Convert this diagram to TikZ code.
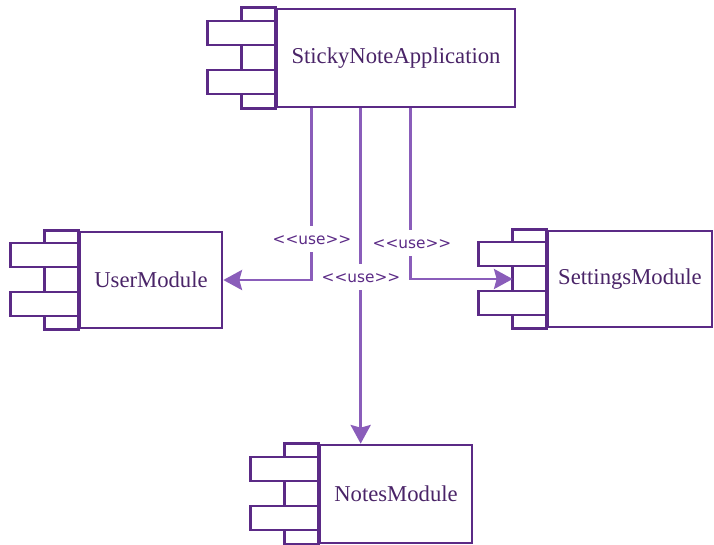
\documentclass[tikz,border=0pt]{standalone}
\usepackage{fontspec}
\setmainfont{Liberation Serif}
\newfontfamily\lblfont{DejaVu Sans}
\usetikzlibrary{calc,arrows.meta}
\definecolor{boxc}{HTML}{5B2A86}
\definecolor{linec}{HTML}{8A5DBA}
\definecolor{txtc}{HTML}{4A2468}
\newcommand\compdeco[1]{%
  \draw[deco] ($(#1.north west)+(-34,0)$) rectangle (#1.south west);
  \draw[deco] ($(#1.west)+(-68,-37)$) rectangle ($(#1.west)+(0,-13)$);
  \draw[deco] ($(#1.west)+(-68,12)$) rectangle ($(#1.west)+(0,36)$);
}
\begin{document}
\begin{tikzpicture}[x=0.75pt,y=-0.75pt,
  comp/.style={draw=boxc, line width=2pt, fill=white, font=\fontsize{17}{20}\selectfont, text=txtc, inner sep=0pt},
  deco/.style={draw=boxc, line width=2pt, fill=white},
  conn/.style={draw=linec, line width=2.2pt, -{Stealth[length=14pt,width=15pt,inset=2pt]}},
  lbl/.style={fill=white, font=\lblfont\fontsize{11.5}{13}\selectfont, text=boxc, inner xsep=1pt, inner ysep=6pt, text height=8pt, text depth=0pt}]
\useasboundingbox (0,0) rectangle (714,544);
\node[comp, minimum width=178.5pt, minimum height=73.5pt] (app) at (396,58) {StickyNoteApplication};
\node[comp, minimum width=106.5pt, minimum height=72pt] (user) at (151,280) {UserModule};
\node[comp, minimum width=114pt, minimum height=73.5pt] (notes) at (396,494) {NotesModule};
\node[comp, minimum width=123pt, minimum height=72pt] (settings) at (630,279) {SettingsModule};
\compdeco{app}
\compdeco{user}
\compdeco{notes}
\compdeco{settings}
\coordinate (c1) at ($(app.south west)+(36,0)$);
\coordinate (c2) at ($(app.south west)+(85,0)$);
\coordinate (c3) at ($(app.south west)+(135,0)$);
\coordinate (sin) at ($(settings.west)+(-34,0)$);
\draw[conn] (c1) |- (user.east);
\draw[conn] (c2) -- (c2 |- notes.north);
\draw[conn] (c3) |- (sin);
\node[lbl] (l1) at (312,239) {<<use>>};
\node[lbl] (l2) at (361,277) {<<use>>};
\node[lbl] (l3) at (412,243) {<<use>>};
\end{tikzpicture}
\end{document}
